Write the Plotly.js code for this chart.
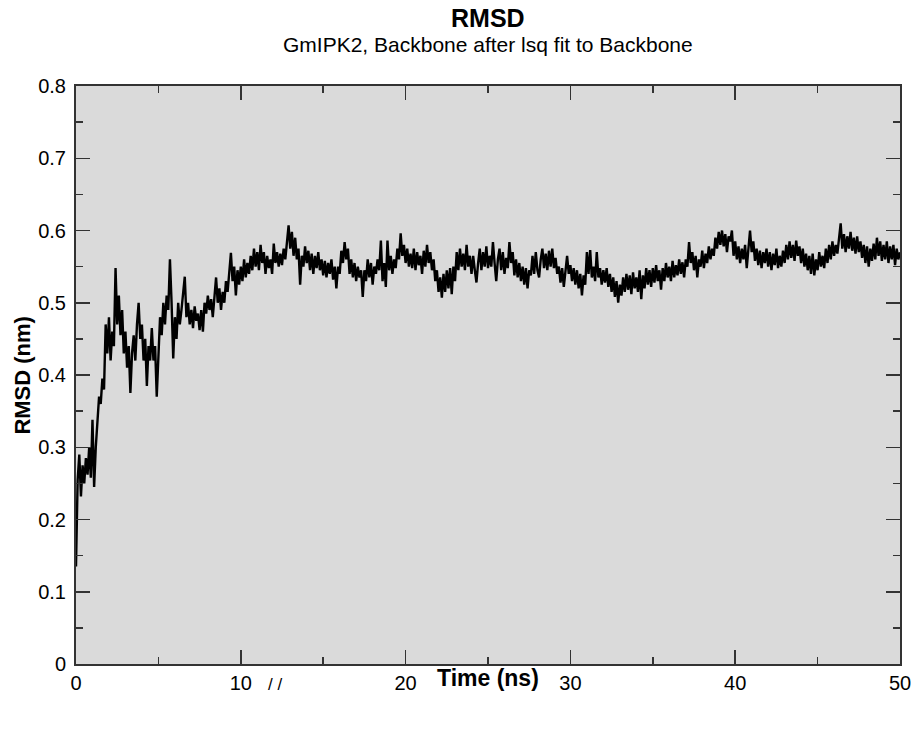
<!DOCTYPE html>
<html>
<head>
<meta charset="utf-8">
<script src="https://cdn.plot.ly/plotly-3.0.1.min.js"></script>
<style>html,body{margin:0;padding:0;background:#fff;}#chart{width:914px;height:733px;}</style>
</head>
<body>
<div id="chart"></div>
<script>
// Time axis: samples every 0.1 ns starting at 0 ns
const TIME_START_NS = 0;
const TIME_STEP_NS = 0.1;

// RMSD values (nm), one per 0.1 ns
const rmsd_0_10 = [
  0.135,0.255,0.290,0.232,0.275,0.250,0.285,0.262,0.300,0.258,
  0.338,0.245,0.300,0.345,0.370,0.360,0.395,0.380,0.470,0.430,
  0.480,0.420,0.460,0.440,0.548,0.470,0.510,0.455,0.490,0.430,
  0.460,0.410,0.440,0.375,0.430,0.455,0.420,0.470,0.500,0.450,
  0.470,0.420,0.450,0.385,0.440,0.420,0.465,0.420,0.440,0.370,
  0.415,0.480,0.455,0.500,0.470,0.510,0.490,0.560,0.500,0.423,
  0.480,0.450,0.500,0.470,0.490,0.510,0.536,0.480,0.500,0.470,
  0.490,0.465,0.495,0.475,0.485,0.462,0.490,0.460,0.500,0.485,
  0.510,0.490,0.505,0.480,0.515,0.535,0.500,0.520,0.490,0.515,
  0.500,0.530,0.515,0.545,0.569,0.530,0.550,0.510,0.545,0.525
];
const rmsd_10_20 = [
  0.550,0.530,0.560,0.535,0.555,0.540,0.565,0.545,0.575,0.550,
  0.570,0.545,0.580,0.555,0.570,0.540,0.565,0.548,0.560,0.540,
  0.582,0.555,0.570,0.550,0.568,0.552,0.575,0.560,0.590,0.607,
  0.575,0.598,0.565,0.590,0.560,0.575,0.525,0.565,0.550,0.578,
  0.555,0.572,0.545,0.568,0.540,0.565,0.548,0.570,0.545,0.560,
  0.538,0.558,0.535,0.555,0.540,0.560,0.532,0.550,0.520,0.550,
  0.540,0.572,0.555,0.584,0.560,0.575,0.540,0.560,0.535,0.555,
  0.530,0.550,0.535,0.545,0.508,0.545,0.530,0.560,0.535,0.555,
  0.525,0.550,0.540,0.560,0.545,0.586,0.530,0.555,0.522,0.586,
  0.545,0.565,0.540,0.560,0.548,0.575,0.560,0.596,0.565,0.580
];
const rmsd_20_30 = [
  0.555,0.575,0.550,0.568,0.548,0.575,0.545,0.570,0.552,0.565,
  0.540,0.572,0.550,0.580,0.555,0.570,0.545,0.560,0.530,0.545,
  0.515,0.535,0.507,0.540,0.515,0.545,0.520,0.548,0.512,0.550,
  0.530,0.570,0.545,0.575,0.550,0.568,0.545,0.580,0.550,0.565,
  0.540,0.565,0.545,0.528,0.555,0.575,0.545,0.570,0.550,0.578,
  0.548,0.565,0.550,0.584,0.555,0.530,0.560,0.575,0.545,0.570,
  0.540,0.562,0.548,0.584,0.555,0.570,0.538,0.560,0.535,0.555,
  0.530,0.550,0.525,0.548,0.520,0.545,0.538,0.565,0.540,0.570,
  0.545,0.535,0.560,0.575,0.548,0.568,0.545,0.572,0.550,0.575,
  0.548,0.562,0.540,0.550,0.528,0.548,0.522,0.545,0.565,0.540
];
const rmsd_30_40 = [
  0.552,0.530,0.548,0.525,0.545,0.520,0.540,0.510,0.538,0.525,
  0.570,0.540,0.573,0.535,0.550,0.530,0.570,0.535,0.548,0.525,
  0.545,0.528,0.548,0.522,0.540,0.515,0.535,0.508,0.530,0.500,
  0.525,0.510,0.535,0.515,0.540,0.518,0.538,0.512,0.542,0.520,
  0.535,0.515,0.545,0.505,0.538,0.520,0.548,0.525,0.545,0.522,
  0.548,0.528,0.552,0.530,0.545,0.518,0.548,0.530,0.555,0.535,
  0.550,0.530,0.558,0.535,0.552,0.538,0.560,0.540,0.556,0.535,
  0.560,0.550,0.584,0.555,0.570,0.545,0.565,0.535,0.560,0.550,
  0.572,0.548,0.568,0.555,0.578,0.560,0.575,0.565,0.590,0.575,
  0.598,0.580,0.600,0.578,0.595,0.570,0.592,0.585,0.600,0.565
];
const rmsd_40_50 = [
  0.585,0.560,0.578,0.555,0.575,0.560,0.580,0.548,0.575,0.600,
  0.570,0.585,0.558,0.575,0.552,0.572,0.548,0.570,0.555,0.575,
  0.550,0.570,0.545,0.568,0.552,0.575,0.548,0.565,0.550,0.572,
  0.555,0.580,0.560,0.585,0.562,0.580,0.558,0.586,0.565,0.578,
  0.555,0.575,0.550,0.568,0.545,0.565,0.540,0.568,0.538,0.560,
  0.545,0.570,0.550,0.565,0.548,0.575,0.555,0.580,0.560,0.585,
  0.565,0.580,0.568,0.590,0.610,0.575,0.595,0.570,0.592,0.575,
  0.598,0.572,0.590,0.568,0.592,0.570,0.585,0.562,0.580,0.555,
  0.578,0.550,0.575,0.558,0.582,0.560,0.590,0.565,0.585,0.558,
  0.580,0.560,0.585,0.555,0.578,0.560,0.580,0.552,0.575,0.560,
  0.570
];
const rmsd = [].concat(rmsd_0_10, rmsd_10_20, rmsd_20_30, rmsd_30_40, rmsd_40_50);

// Text
const TITLE = "RMSD";
const SUBTITLE = "GmIPK2, Backbone after lsq fit to Backbone";
const X_TITLE = "Time (ns)";
const Y_TITLE = "RMSD (nm)";
const X_TICKS = [0, 10, 20, 30, 40, 50];
const Y_TICKS = [0, 0.1, 0.2, 0.3, 0.4, 0.5, 0.6, 0.7, 0.8];

const FONT = "Liberation Sans, Arial, Helvetica, sans-serif";
const FRAME = "#333333";

const trace = {
  type: "scatter",
  mode: "lines",
  x0: TIME_START_NS,
  dx: TIME_STEP_NS,
  y: rmsd,
  line: {color: "#000000", width: 2.4},
  hoverinfo: "skip"
};

const axisCommon = {
  showgrid: false,
  zeroline: false,
  showline: true,
  linecolor: FRAME,
  linewidth: 2,
  mirror: "ticks",
  ticks: "inside",
  ticklen: 14,
  tickwidth: 1.5,
  tickcolor: FRAME,
  tickfont: {family: FONT, size: 20, color: "#000"},
  fixedrange: true
};

const layout = {
  width: 914,
  height: 733,
  margin: {l: 76, r: 14, t: 86, b: 69},
  paper_bgcolor: "#ffffff",
  plot_bgcolor: "#dadada",
  showlegend: false,
  xaxis: Object.assign({}, axisCommon, {
    range: [0, 50],
    tickmode: "array",
    tickvals: X_TICKS,
    ticktext: X_TICKS.map(String),
    minor: {ticks: "inside", ticklen: 7, tickwidth: 1.5, tickcolor: FRAME, dtick: 5, tick0: 0, showgrid: false},
    ticklabelstandoff: 0
  }),
  yaxis: Object.assign({}, axisCommon, {
    range: [0, 0.8],
    tickmode: "array",
    tickvals: Y_TICKS,
    ticktext: Y_TICKS.map(String),
    minor: {ticks: "inside", ticklen: 7, tickwidth: 1.5, tickcolor: FRAME, dtick: 0.05, tick0: 0, showgrid: false},
    ticklabelstandoff: 4
  }),
  annotations: [
    {text: "<b>" + TITLE + "</b>", xref: "paper", yref: "paper", x: 0.5, y: 1.1176, xanchor: "center", yanchor: "middle", showarrow: false, font: {family: FONT, size: 25, color: "#000"}},
    {text: SUBTITLE, xref: "paper", yref: "paper", x: 0.5, y: 1.071, xanchor: "center", yanchor: "middle", showarrow: false, font: {family: FONT, size: 21, color: "#000"}},
    {text: "<b>" + X_TITLE + "</b>", xref: "paper", yref: "paper", x: 0.5, y: -0.0242, xanchor: "center", yanchor: "middle", showarrow: false, font: {family: FONT, size: 23, color: "#000"}},
    {text: "<b>" + Y_TITLE + "</b>", xref: "paper", yref: "paper", x: -0.066, y: 0.5, xanchor: "center", yanchor: "middle", textangle: -90, showarrow: false, font: {family: FONT, size: 22, color: "#000"}},
    {text: "/ /", xref: "paper", yref: "paper", x: 0.2415, y: -0.036, xanchor: "center", yanchor: "middle", showarrow: false, font: {family: FONT, size: 17, color: "#000"}}
  ]
};

Plotly.newPlot("chart", [trace], layout, {displayModeBar: false, staticPlot: true});
</script>
</body>
</html>
